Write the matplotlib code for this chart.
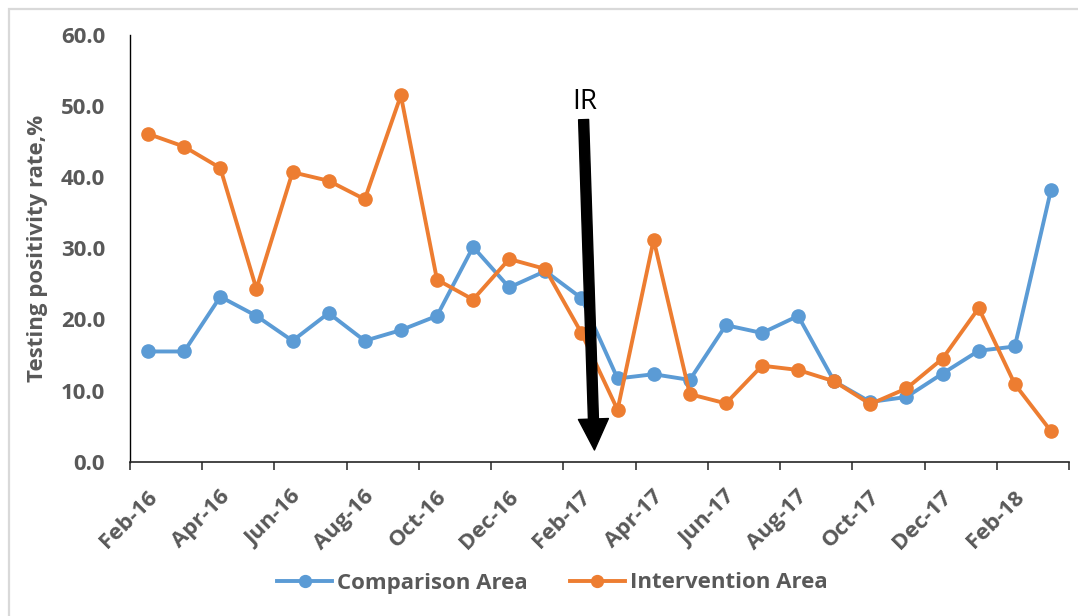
import matplotlib
matplotlib.use("Agg")
import matplotlib.pyplot as plt
from matplotlib.transforms import ScaledTranslation
from matplotlib.patches import Rectangle

# Monthly testing positivity rate (%), Feb-2016 .. Mar-2018
months = ["Feb-16", "Mar-16", "Apr-16", "May-16", "Jun-16", "Jul-16", "Aug-16",
          "Sep-16", "Oct-16", "Nov-16", "Dec-16", "Jan-17", "Feb-17", "Mar-17",
          "Apr-17", "May-17", "Jun-17", "Jul-17", "Aug-17", "Sep-17", "Oct-17",
          "Nov-17", "Dec-17", "Jan-18", "Feb-18", "Mar-18"]
comparison = [15.5, 15.5, 23.2, 20.5, 17.0, 20.9, 17.0, 18.5, 20.5, 30.2,
              24.5, 26.8, 23.0, 11.7, 12.3, 11.5, 19.2, 18.1, 20.5, 11.3,
              8.4, 9.1, 12.4, 15.6, 16.2, 38.2]
intervention = [46.1, 44.3, 41.3, 24.3, 40.7, 39.5, 36.9, 51.5, 25.6, 22.8,
                28.5, 27.1, 18.1, 7.3, 31.2, 9.5, 8.2, 13.5, 12.9, 11.3,
                8.1, 10.3, 14.5, 21.6, 10.9, 4.3]
tick_labels = ["Feb-16", "Apr-16", "Jun-16", "Aug-16", "Oct-16", "Dec-16",
               "Feb-17", "Apr-17", "Jun-17", "Aug-17", "Oct-17", "Dec-17",
               "Feb-18", ""]
series_names = ["Comparison Area", "Intervention Area"]
ir_month = "Mar-17"

BLUE = "#5B9BD5"
ORANGE = "#ED7D31"
GRAY = "#595959"
FONT = "Open Sans"

plt.rcParams["font.family"] = [FONT, "DejaVu Sans"]

W, H, DPI = 1078, 616, 100
fig = plt.figure(figsize=(W / DPI, H / DPI), dpi=DPI)
ax = fig.add_axes([130 / W, 1 - 461.7 / H, (1069 - 130) / W, (461.7 - 35) / H])

# chart-area border
fig.patches.append(Rectangle((9 / W, -0.1), 1.2, 1 - 9 / H + 0.1,
                             transform=fig.transFigure, fill=False,
                             edgecolor="#d9d9d9", lw=1.6, zorder=0))

x = [i + 0.5 for i in range(len(months))]
ax.plot(x, comparison, color=BLUE, lw=2.8, marker="o", ms=9.5,
        label=series_names[0], zorder=3)
ax.plot(x, intervention, color=ORANGE, lw=2.8, marker="o", ms=9.5,
        label=series_names[1], zorder=3)

ax.set_xlim(0, len(months))
ax.set_ylim(0, 60)
ax.set_yticks(range(0, 61, 10))
ax.set_yticklabels([f"{v:.1f}" for v in range(0, 61, 10)])
ax.set_xticks(range(0, len(months) + 1, 2))
ax.set_xticklabels(tick_labels)

for side in ("top", "right"):
    ax.spines[side].set_visible(False)
ax.spines["left"].set_color("#000000")
ax.spines["left"].set_linewidth(1.0)
ax.spines["bottom"].set_color("#262626")
ax.spines["bottom"].set_linewidth(1.2)

ax.tick_params(axis="y", length=0, pad=18, labelsize=16, labelcolor=GRAY)
ax.tick_params(axis="x", length=5.8, width=1.1, color="#262626", direction="out",
               pad=17.3, labelsize=16, labelcolor=GRAY)
for lbl in ax.get_yticklabels():
    lbl.set_fontweight("bold")
shift = ScaledTranslation(24 / DPI, 0, fig.dpi_scale_trans)
for lbl in ax.get_xticklabels():
    lbl.set_fontweight("bold")
    lbl.set_rotation(45)
    lbl.set_ha("right")
    lbl.set_va("center")
    lbl.set_rotation_mode("anchor")
    lbl.set_transform(lbl.get_transform() + shift)

fig.text(38 / W, 1 - 248 / H, "Testing positivity rate,%", rotation=90,
         ha="center", va="center", fontsize=16, fontweight="bold", color=GRAY)

# intervention (IR) marker arrow
ir_x = months.index(ir_month) - 0.44
ax.annotate("", xy=(ir_x + 0.30, 1.65), xytext=(ir_x, 48.1),
            arrowprops=dict(arrowstyle="simple,head_length=22.3,head_width=21.6,tail_width=7.2",
                            mutation_scale=1, color="black", shrinkA=0, shrinkB=0),
            zorder=5)
ax.text(ir_x + 0.02, 50.6, "IR", ha="center", va="center", fontsize=20,
        color="black", zorder=5)

leg = fig.legend(loc="center", bbox_to_anchor=(552 / W, 1 - 583 / H), ncol=2,
                 frameon=False, fontsize=16, handlelength=2.5, handletextpad=0.2,
                 columnspacing=1.9, borderpad=0, markerscale=0.9)
for t in leg.get_texts():
    t.set_color(GRAY)
    t.set_fontweight("bold")

fig.savefig("out.png", dpi=DPI)
